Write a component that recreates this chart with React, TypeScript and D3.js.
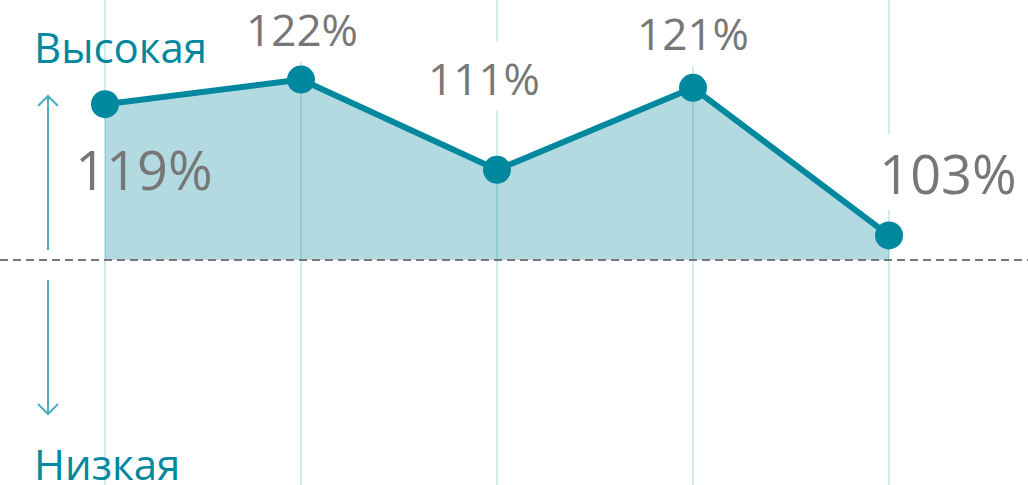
import React, { useEffect, useRef } from "react";
import * as d3 from "d3";

// values (percent)
const periods = ["p1", "p2", "p3", "p4", "p5"];
const values = [119, 122, 111, 121, 103];
const valueLabels = ["119%", "122%", "111%", "121%", "103%"];
const baselineValue = 100;
const highLabel = "Высокая";
const lowLabel = "Низкая";

// label placement (style, not data)
const labelDx = [39, 1, -13, 0, 59];
const labelDy = [86, -34, -75, -38, -41];
const labelSize = [54, 44, 44, 44, 54];
const labelKnockout = [false, true, true, true, true];

const W = 1028;
const H = 485;
const TEAL = "#00889e";
const AREA = "#b3dae1";
const GRID = "rgba(0,137,158,0.18)";
const ARROW = "#4aafc0";
const GREY = "#777777";
const FONT = "'Open Sans', 'Noto Sans', sans-serif";

const drawChart = (el: SVGSVGElement) => {
  const svg = d3.select(el);
  svg.selectAll("*").remove();

  const x = d3.scalePoint<string>().domain(periods).range([105, 889]);
  const y = d3.scaleLinear().domain([baselineValue, 122]).range([260, 79.6]);

  const pts = periods.map((p, i) => ({ p, v: values[i], i }));

  // area down to 100% baseline
  const area = d3
    .area<any>()
    .x((d) => x(d.p)!)
    .y0(y(baselineValue))
    .y1((d) => y(d.v));
  svg.append("path").attr("d", area(pts)).attr("fill", AREA);

  // vertical grid lines
  svg
    .selectAll("line.grid")
    .data(pts)
    .enter()
    .append("line")
    .attr("class", "grid")
    .attr("x1", (d) => x(d.p)!)
    .attr("x2", (d) => x(d.p)!)
    .attr("y1", 0)
    .attr("y2", H)
    .attr("stroke", GRID)
    .attr("stroke-width", 2);

  // white gaps in grid lines behind labels
  svg
    .selectAll("rect.knock")
    .data(pts.filter((d) => labelKnockout[d.i]))
    .enter()
    .append("rect")
    .attr("class", "knock")
    .attr("x", (d) => x(d.p)! - 3)
    .attr("width", 6)
    .attr("y", (d) => y(d.v) + labelDy[d.i] - labelSize[d.i] * 0.72 - 22)
    .attr("height", (d) => labelSize[d.i] * 0.72 + 22 + 16)
    .attr("fill", "#fff");

  // dashed 100% line
  svg
    .append("line")
    .attr("x1", 0)
    .attr("x2", W)
    .attr("y1", y(baselineValue))
    .attr("y2", y(baselineValue))
    .attr("stroke", GREY)
    .attr("stroke-width", 2)
    .attr("stroke-dasharray", "8,5");

  const line = d3
    .line<any>()
    .x((d) => x(d.p)!)
    .y((d) => y(d.v));
  svg
    .append("path")
    .attr("d", line(pts))
    .attr("fill", "none")
    .attr("stroke", TEAL)
    .attr("stroke-width", 6)
    .attr("stroke-linejoin", "round");

  svg
    .selectAll("circle.pt")
    .data(pts)
    .enter()
    .append("circle")
    .attr("class", "pt")
    .attr("cx", (d) => x(d.p)!)
    .attr("cy", (d) => y(d.v))
    .attr("r", 14)
    .attr("fill", TEAL);

  svg
    .selectAll("text.val")
    .data(pts)
    .enter()
    .append("text")
    .attr("class", "val")
    .attr("x", (d) => x(d.p)! + labelDx[d.i])
    .attr("y", (d) => y(d.v) + labelDy[d.i])
    .attr("text-anchor", "middle")
    .attr("font-family", FONT)
    .attr("font-size", (d) => labelSize[d.i])
    .attr("fill", GREY)
    .text((d) => valueLabels[d.i]);

  // up / down arrows
  const arrows = svg.append("g").attr("stroke", ARROW).attr("stroke-width", 2).attr("fill", "none");
  arrows.append("line").attr("x1", 48).attr("x2", 48).attr("y1", 96).attr("y2", 250);
  arrows.append("path").attr("d", "M38,106 L48,96 L58,106");
  arrows.append("line").attr("x1", 48).attr("x2", 48).attr("y1", 280).attr("y2", 414);
  arrows.append("path").attr("d", "M38,404 L48,414 L58,404");

  svg
    .append("text")
    .attr("x", 34)
    .attr("y", 63)
    .attr("font-family", FONT)
    .attr("font-size", 42)
    .attr("fill", TEAL)
    .text(highLabel);

  svg
    .append("text")
    .attr("x", 34)
    .attr("y", 480)
    .attr("font-family", FONT)
    .attr("font-size", 42)
    .attr("fill", TEAL)
    .text(lowLabel);
};

const App = () => {
  const ref = useRef<SVGSVGElement>(null);
  useEffect(() => {
    if (ref.current) drawChart(ref.current);
  });
  return (
    <svg
      ref={ref}
      width={W}
      height={H}
      style={{ position: "absolute", left: 0, top: 0, background: "#fff" }}
    />
  );
};

export default App;
